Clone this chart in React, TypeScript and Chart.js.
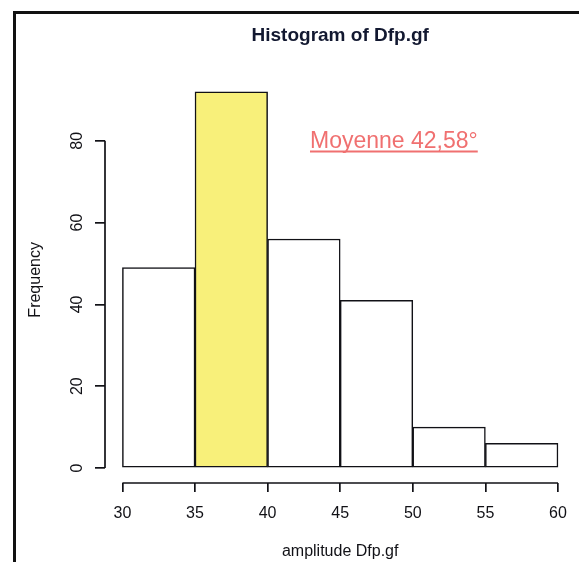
import React, { useEffect, useRef } from "react";
import { Chart, registerables } from "chart.js";

Chart.register(...registerables);

// ---- data ----
const binEdges = [30, 35, 40, 45, 50, 55, 60];
const binCounts = [49, 92, 56, 41, 10, 6];
const highlightBin = 1; // 35-40
const yTicks = [0, 20, 40, 60, 80];
const xTicks = [30, 35, 40, 45, 50, 55, 60];
const chartTitle = "Histogram of Dfp.gf";
const xTitle = "amplitude Dfp.gf";
const yTitle = "Frequency";
const annotationText = "Moyenne 42,58°";

const FONT = "'Liberation Sans', Arial, Helvetica, sans-serif";
const INK = "#111116";

// R default 4% range extension
const xMin = binEdges[0] - 0.04 * (binEdges[binEdges.length - 1] - binEdges[0]);
const xMax = binEdges[binEdges.length - 1] + 0.04 * (binEdges[binEdges.length - 1] - binEdges[0]);
const yTop = Math.max(...binCounts);
const yMin = -0.04 * yTop;
const yMax = yTop * 1.04;

const rAxesPlugin = {
  id: "rAxes",
  afterDraw(chart: any) {
    const ctx = chart.ctx;
    const xs = chart.scales.x;
    const ys = chart.scales.y;
    ctx.save();
    ctx.strokeStyle = INK;
    ctx.lineWidth = 1.7;
    // x axis line (first to last tick)
    const xb = chart.chartArea.bottom;
    ctx.beginPath();
    ctx.moveTo(xs.getPixelForValue(xTicks[0]), xb);
    ctx.lineTo(xs.getPixelForValue(xTicks[xTicks.length - 1]), xb);
    ctx.stroke();
    // y axis line
    const yl = chart.chartArea.left;
    ctx.beginPath();
    ctx.moveTo(yl, ys.getPixelForValue(yTicks[0]));
    ctx.lineTo(yl, ys.getPixelForValue(yTicks[yTicks.length - 1]));
    ctx.stroke();
    // y tick labels, parallel to the axis
    ctx.fillStyle = INK;
    ctx.font = `16px ${FONT}`;
    ctx.textAlign = "center";
    ctx.textBaseline = "middle";
    for (const v of yTicks) {
      ctx.save();
      ctx.translate(yl - 27, ys.getPixelForValue(v));
      ctx.rotate(-Math.PI / 2);
      ctx.fillText(String(v), 0, 0);
      ctx.restore();
    }
    // annotation
    ctx.font = `23px ${FONT}`;
    ctx.fillStyle = "#f07070";
    ctx.strokeStyle = "#f07070";
    ctx.textAlign = "left";
    ctx.textBaseline = "alphabetic";
    const ax = 310;
    const ay = 148;
    ctx.fillText(annotationText, ax, ay);
    const w = ctx.measureText(annotationText).width;
    ctx.lineWidth = 1.8;
    ctx.beginPath();
    ctx.moveTo(ax, ay + 3.5);
    ctx.lineTo(ax + w, ay + 3.5);
    ctx.stroke();
    ctx.restore();
  },
};

export default function App() {
  const ref = useRef<HTMLCanvasElement | null>(null);

  useEffect(() => {
    if (!ref.current) return;
    const centers = binCounts.map((_, i) => (binEdges[i] + binEdges[i + 1]) / 2);
    const chart = new Chart(ref.current, {
      type: "bar",
      data: {
        datasets: [
          {
            data: centers.map((c, i) => ({ x: c, y: binCounts[i] })),
            backgroundColor: binCounts.map((_, i) => (i === highlightBin ? "#f8f07a" : "#ffffff")),
            borderColor: INK,
            borderWidth: 1.5,
            borderSkipped: false,
            barPercentage: 1,
            categoryPercentage: 1,
          },
        ],
      },
      options: {
        responsive: false,
        animation: false,
        devicePixelRatio: 1,
        layout: { padding: { left: 0, right: 0, top: 0, bottom: 0 } },
        plugins: {
          legend: { display: false },
          tooltip: { enabled: false },
          title: {
            display: true,
            text: chartTitle,
            fullSize: false,
            color: "#121830",
            font: { family: FONT, size: 19, weight: "bold" },
            padding: { top: 24.6, bottom: 29.3 },
          },
        },
        scales: {
          x: {
            type: "linear",
            offset: false,
            min: xMin,
            max: xMax,
            afterBuildTicks: (s: any) => {
              s.ticks = xTicks.map((v) => ({ value: v }));
            },
            afterFit: (s: any) => {
              s.height = 79;
            },
            grid: {
              display: true,
              offset: false,
              drawOnChartArea: false,
              drawTicks: true,
              tickLength: 9,
              color: INK,
              lineWidth: 1.7,
            },
            border: { display: false },
            ticks: {
              color: INK,
              font: { family: FONT, size: 16 },
              padding: 12,
              maxRotation: 0,
              autoSkip: false,
              callback: (v: any) => String(v),
            },
            title: {
              display: true,
              text: xTitle,
              color: INK,
              font: { family: FONT, size: 16 },
              padding: { top: 0, bottom: 1 },
            },
          },
          y: {
            type: "linear",
            min: yMin,
            max: yMax,
            afterBuildTicks: (s: any) => {
              s.ticks = yTicks.map((v) => ({ value: v }));
            },
            afterFit: (s: any) => {
              s.width = 105;
            },
            grid: {
              display: true,
              drawOnChartArea: false,
              drawTicks: true,
              tickLength: 10,
              color: INK,
              lineWidth: 1.7,
            },
            border: { display: false },
            ticks: { display: false },
            title: {
              display: true,
              text: yTitle,
              color: INK,
              font: { family: FONT, size: 16 },
              padding: { top: 26.4, bottom: 0 },
            },
          },
        },
      },
      plugins: [rAxesPlugin],
    });
    return () => chart.destroy();
  }, []);

  return (
    <div
      style={{
        position: "fixed",
        left: 0,
        top: 0,
        width: 579,
        height: 562,
        overflow: "hidden",
        background: "#ffffff",
      }}
    >
      <canvas ref={ref} width={579} height={562} style={{ display: "block" }} />
      <div
        style={{
          position: "absolute",
          left: 13,
          top: 11,
          width: 800,
          height: 800,
          borderLeft: "3px solid #111",
          borderTop: "3px solid #111",
          pointerEvents: "none",
        }}
      />
    </div>
  );
}
